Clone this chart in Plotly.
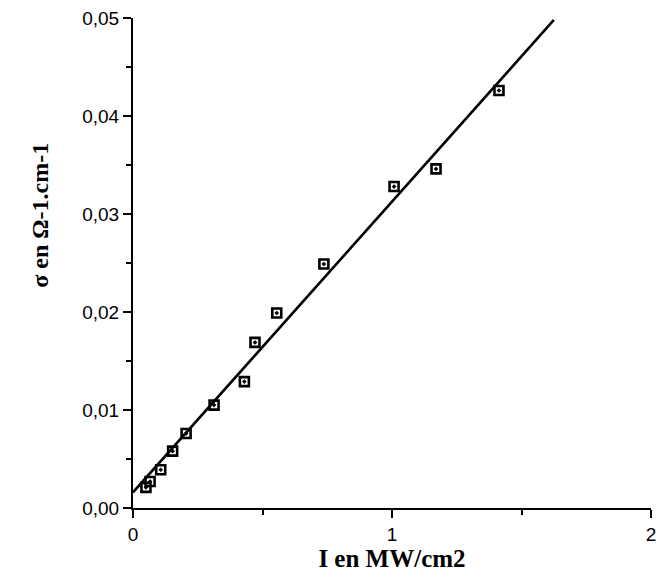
import plotly.graph_objects as go

I_mw = [0.05, 0.066, 0.107, 0.153, 0.205, 0.313, 0.430, 0.471, 0.555, 0.737, 1.008, 1.17, 1.413]
sigma = [0.0021, 0.0027, 0.0039, 0.0058, 0.0076, 0.0105, 0.0129, 0.0169, 0.0199, 0.0249, 0.0328, 0.0346, 0.0426]

# droite d'ajustement (extrémités)
fit_x = [0.0, 1.625]
fit_y = [0.0016, 0.0498]

x_ticks = [0, 1, 2]
y_ticks = [0.0, 0.01, 0.02, 0.03, 0.04, 0.05]

fig = go.Figure()
fig.add_trace(go.Scatter(x=fit_x, y=fit_y, mode="lines", cliponaxis=False,
                         line=dict(color="black", width=2.6), showlegend=False))
fig.add_trace(go.Scatter(x=I_mw, y=sigma, mode="markers", showlegend=False,
                         marker=dict(symbol="square-open-dot", size=9, color="black",
                                     line=dict(width=2.6, color="black"))))

ax = dict(showgrid=False, zeroline=False, showline=True, linecolor="black", linewidth=2,
          ticks="outside", ticklen=8, tickwidth=2, tickcolor="black", automargin=False,
          ticklabeloverflow="allow",
          tickfont=dict(family="Liberation Sans, Arial", size=19, color="black"))
title_font = dict(family="Liberation Serif, Times New Roman", size=25, color="black")
fig.update_xaxes(**ax, range=[0, 2], tickvals=x_ticks, tickformat="d",
                 minor=dict(ticks="outside", ticklen=5, tickwidth=1.5, dtick=0.5, tickcolor="black"),
                 title=dict(text="<b>I en MW/cm2</b>", standoff=4, font=title_font))
fig.update_yaxes(**ax, range=[0, 0.05], tickvals=y_ticks, tickformat=".2f",
                 minor=dict(ticks="outside", ticklen=5, tickwidth=1.5, dtick=0.005, tickcolor="black"))
# titre de l'axe y : placé plus haut que le centre, comme sur l'original
fig.add_annotation(text="<b>σ en Ω-1.cm-1</b>", xref="paper", yref="paper",
                   x=-0.209, y=0.598, textangle=-90, showarrow=False,
                   font=dict(family="Liberation Serif, Times New Roman", size=24, color="black"))
fig.update_layout(width=656, height=585, separators=", ",
                  paper_bgcolor="white", plot_bgcolor="white",
                  margin=dict(l=133, r=5, t=18, b=77))
# supprime la marge de 8 px du <body>, pas de barre d'outils
fig.write_html("out.html", config={"displayModeBar": False},
               post_script="document.body.style.margin='0';")
